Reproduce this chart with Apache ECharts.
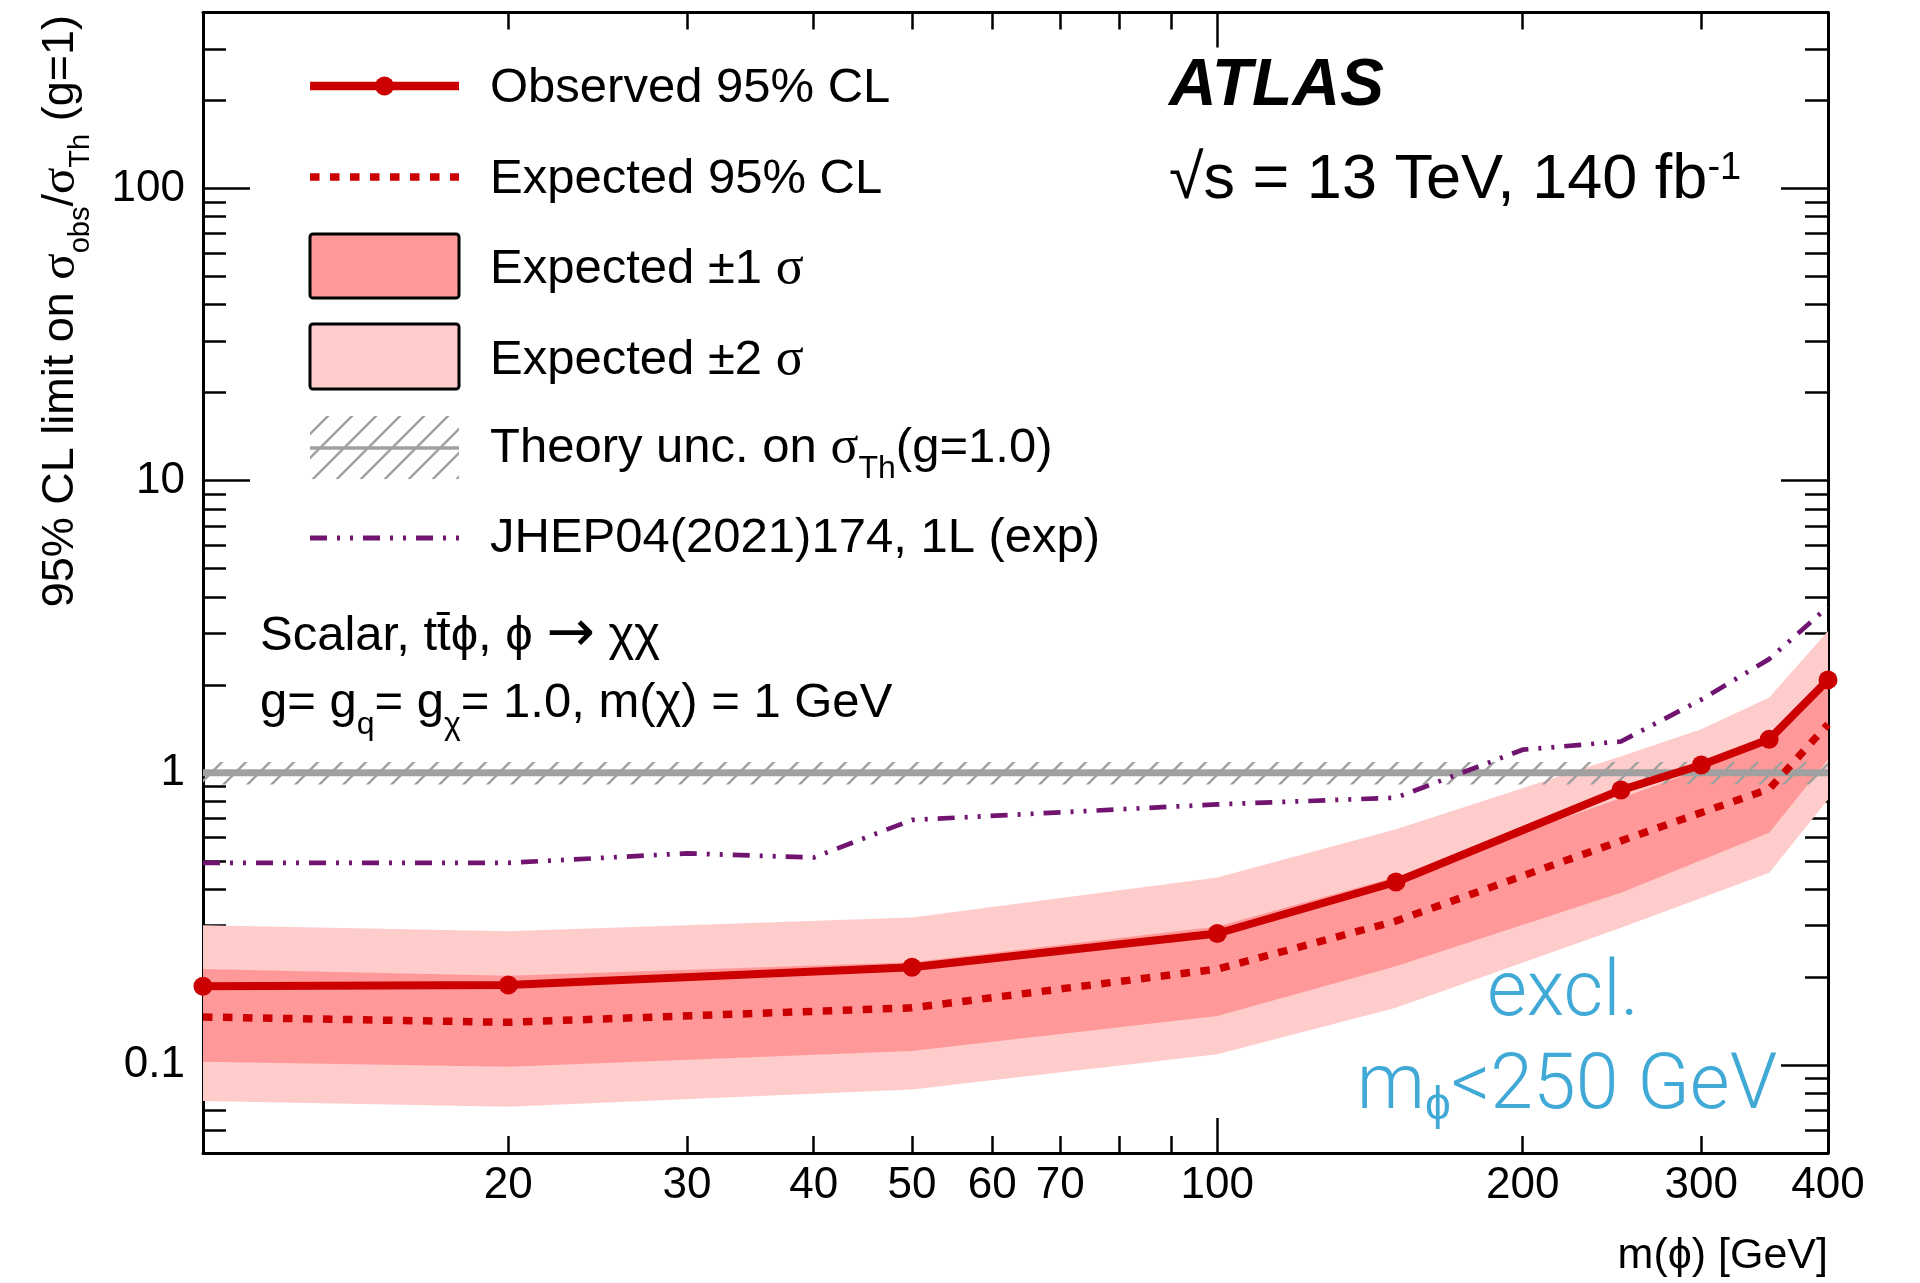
<!DOCTYPE html>
<html><head><meta charset="utf-8">
<script src="https://cdn.jsdelivr.net/npm/echarts@6/dist/echarts.min.js"></script>
<style>html,body{margin:0;padding:0;background:#fff}#c{width:1920px;height:1283px}</style>
</head><body><div id="c"></div>
<script>
// ---------------- data ----------------
const masses     = [10, 20, 50, 100, 150, 250, 300, 350, 400];
const observed   = [0.186, 0.188, 0.216, 0.282, 0.423, 0.873, 1.064, 1.302, 2.08];
const expected   = [0.146, 0.140, 0.157, 0.213, 0.311, 0.585, 0.731, 0.880, 1.467];
const exp1sUp    = [0.213, 0.202, 0.225, 0.298, 0.440, 0.820, 1.030, 1.300, 2.15];
const exp1sDn    = [0.1027, 0.0987, 0.1116, 0.1472, 0.218, 0.389, 0.502, 0.624, 1.11];
const exp2sUp    = [0.301, 0.287, 0.320, 0.438, 0.641, 1.140, 1.410, 1.810, 3.06];
const exp2sDn    = [0.0753, 0.0720, 0.0825, 0.1088, 0.157, 0.295, 0.373, 0.455, 0.81];
const jhepMasses = [10, 20, 30, 40, 50, 100, 150, 200, 250, 300, 350, 400];
const jhepLimit  = [0.492, 0.492, 0.530, 0.513, 0.690, 0.780, 0.822, 1.20, 1.28, 1.78, 2.45, 3.70];
const theoryMasses  = [10, 400];
const theoryCentral = [1, 1];
const theoryLow     = [0.913, 0.913];
const theoryHigh    = [1.089, 1.089];
const xTickLabels = [20, 30, 40, 50, 60, 70, 100, 200, 300, 400];
const xMinorTicks = [20, 30, 40, 50, 60, 70, 80, 90, 200, 300];
const xMajorTicks = [100];
const yTickLabels = [0.1, 1, 10, 100];
const yMinorTicks = [0.06, 0.07, 0.08, 0.09, 0.2, 0.3, 0.4, 0.5, 0.6, 0.7, 0.8, 0.9,
                     2, 3, 4, 5, 6, 7, 8, 9, 20, 30, 40, 50, 60, 70, 80, 90, 200, 300];
const yMajorTicks = [0.1, 1, 10, 100];

// ---------------- styles ----------------
const F = '"Liberation Sans", Arial, Helvetica, sans-serif';
const SERIF = '"Liberation Serif", "Times New Roman", serif';
const DV = '"DejaVu Sans", ' + F;
const LIGHT = 'Roboto, ' + F;
const RED = '#cc0000', PURPLE = '#701470', GREY = '#a0a0a0';
const C1S = '#ff9999', C2S = '#ffcccc';

function makeHatch(size, color, width) {
  const c = document.createElement('canvas');
  c.width = size; c.height = size;
  const g = c.getContext('2d');
  g.strokeStyle = color; g.lineWidth = width;
  g.beginPath();
  g.moveTo(-size, size); g.lineTo(size, -size);
  g.moveTo(0, size); g.lineTo(size, 0);
  g.moveTo(0, 2 * size); g.lineTo(2 * size, 0);
  g.stroke();
  return c;
}
const hatch = { image: makeHatch(24, GREY, 2.4), repeat: 'repeat' };

function band(name, xs, lo, hi, fill, z) {
  return {
    type: 'custom', name, z, silent: true, xAxisIndex: 0, yAxisIndex: 0,
    data: xs.map((x, i) => [x, lo[i], hi[i]]),
    encode: { x: 0, y: [1, 2] },
    renderItem(params, api) {
      if (params.dataIndex !== 0) return null;
      const pts = [];
      for (let i = 0; i < xs.length; i++) pts.push(api.coord([xs[i], hi[i]]));
      for (let i = xs.length - 1; i >= 0; i--) pts.push(api.coord([xs[i], lo[i]]));
      return { type: 'polygon', shape: { points: pts }, style: { fill: fill, stroke: null } };
    }
  };
}

const fmt = v => String(+(+v).toPrecision(6));
const AX_LINE = { show: true, onZero: false, lineStyle: { color: '#000', width: 3 } };
function xAx(pos, ticks, len, showLine, labels) {
  return {
    type: 'log', logBase: 10, min: 10, max: 400, position: pos,
    axisLine: showLine ? AX_LINE : { show: false },
    axisTick: { show: true, inside: true, length: len, customValues: ticks,
                lineStyle: { color: '#000', width: 2.5 } },
    axisLabel: labels ? { show: true, customValues: labels, formatter: fmt, margin: 11,
                          fontSize: 44, fontFamily: F, color: '#000' } : { show: false },
    splitLine: { show: false }, minorTick: { show: false }
  };
}
function yAx(pos, ticks, len, showLine, labels) {
  return {
    type: 'log', logBase: 10, min: 0.05, max: 400, position: pos,
    axisLine: showLine ? AX_LINE : { show: false },
    axisTick: { show: true, inside: true, length: len, customValues: ticks,
                lineStyle: { color: '#000', width: 2.5 } },
    axisLabel: labels ? { show: true, customValues: labels, formatter: fmt, margin: 18,
                          fontSize: 44, fontFamily: F, color: '#000' } : { show: false },
    splitLine: { show: false }, minorTick: { show: false }
  };
}

const txt = (x, y, text, extra, rich, rot) => ({
  type: 'text', x, y, rotation: rot || 0, silent: true,
  style: Object.assign({ text, fontFamily: F, fontSize: 49, fill: '#000',
    align: 'left', verticalAlign: 'middle', textAlign: 'left', textVerticalAlign: 'middle',
    rich: rich || {} }, extra || {})
});
const richLegend = {
  g: { fontFamily: SERIF, fontSize: 52 },
  sub: { fontFamily: F, fontSize: 32, padding: [42, 0, 0, 0] }
};

const legendRows = [86, 177, 267, 358, 448, 538];
const graphics = [
  // legend symbols
  { type: 'line', silent: true, shape: { x1: 310, y1: legendRows[0], x2: 459, y2: legendRows[0] }, style: { stroke: RED, lineWidth: 8.5 } },
  { type: 'circle', silent: true, shape: { cx: 384.5, cy: legendRows[0], r: 9.5 }, style: { fill: RED } },
  { type: 'line', silent: true, shape: { x1: 310, y1: legendRows[1], x2: 459, y2: legendRows[1] }, style: { stroke: RED, lineWidth: 7.5, lineDash: [9.5, 10.5] } },
  { type: 'rect', silent: true, shape: { x: 310, y: 234, width: 149, height: 64, r: 3 }, style: { fill: C1S, stroke: '#000', lineWidth: 3 } },
  { type: 'rect', silent: true, shape: { x: 310, y: 324, width: 149, height: 65, r: 3 }, style: { fill: C2S, stroke: '#000', lineWidth: 3 } },
  { type: 'rect', silent: true, shape: { x: 310, y: 416, width: 149, height: 63 }, style: { fill: hatch } },
  { type: 'line', silent: true, shape: { x1: 310, y1: legendRows[4], x2: 459, y2: legendRows[4] }, style: { stroke: GREY, lineWidth: 3.5 } },
  { type: 'line', silent: true, shape: { x1: 310, y1: legendRows[5], x2: 459, y2: legendRows[5] }, style: { stroke: PURPLE, lineWidth: 5, lineDash: [17, 10, 3, 10, 3, 10] } },
  // legend labels
  txt(490, legendRows[0] + 2, 'Observed 95% CL'),
  txt(490, legendRows[1] + 2, 'Expected 95% CL'),
  txt(490, legendRows[2] + 2, 'Expected ±1 {g|σ}', null, richLegend),
  txt(490, legendRows[3] + 2, 'Expected ±2 {g|σ}', null, richLegend),
  txt(490, legendRows[4] + 0, 'Theory unc. on {g|σ}{sub|Th}(g=1.0)', null, richLegend),
  txt(490, legendRows[5] + 0, 'JHEP04(2021)174, 1L (exp)'),
  // ATLAS labels
  txt(1169, 87, 'ATLAS', { fontSize: 66, fontWeight: 'bold', fontStyle: 'italic' }),
  txt(1169, 181, '√s = 13 TeV, 140 fb{sup|-1}', { fontSize: 63 },
      { sup: { fontFamily: F, fontSize: 38, padding: [0, 0, 24, 0] } }),
  // process labels
  txt(260, 636, 'Scalar, tt̄ϕ, ϕ {ar|→} χχ', null,
      { ar: { fontFamily: DV, fontSize: 58 } }),
  txt(260, 703, 'g= g{sub|q}= g{sub|χ}= 1.0, m(χ) = 1 GeV', null,
      { sub: { fontFamily: F, fontSize: 32, padding: [44, 0, 0, 0] } }),
  // exclusion note
  txt(1563, 996, 'excl.', { fontSize: 77, fontFamily: LIGHT, fontWeight: 300, fill: '#41a9d6', align: 'center', textAlign: 'center' }),
  txt(1567, 1089, 'm{sub|ϕ}<250 GeV', { fontSize: 77, fontFamily: LIGHT, fontWeight: 300, fill: '#41a9d6', align: 'center', textAlign: 'center' },
      { sub: { fontFamily: LIGHT, fontWeight: 300, fontSize: 46, padding: [36, 0, 0, 0] } }),
  // axis titles
  txt(1828, 1256, 'm(ϕ) [GeV]', { fontSize: 43, align: 'right', textAlign: 'right' }),
  txt(61, 15, '95% CL limit on {g|σ}{sub|obs}/{g|σ}{sub|Th} (g=1)', { fontSize: 45, align: 'right', textAlign: 'right' },
      { g: { fontFamily: SERIF, fontSize: 49 }, sub: { fontFamily: F, fontSize: 29, padding: [40, 0, 0, 0] } }, Math.PI / 2)
];

const chart = echarts.init(document.getElementById('c'), null, { renderer: 'canvas' });
chart.setOption({
  animation: false,
  backgroundColor: '#fff',
  grid: { left: 203, right: 92, top: 12.5, bottom: 130, containLabel: false },
  xAxis: [
    xAx('bottom', xMinorTicks, 17, true, xTickLabels),
    xAx('bottom', xMajorTicks, 35, false, null),
    xAx('top', xMinorTicks, 17, true, null),
    xAx('top', xMajorTicks, 35, false, null)
  ],
  yAxis: [
    yAx('left', yMinorTicks, 23, true, yTickLabels),
    yAx('left', yMajorTicks, 47, false, null),
    yAx('right', yMinorTicks, 23, true, null),
    yAx('right', yMajorTicks, 47, false, null)
  ],
  series: [
    band('Expected ±2σ', masses, exp2sDn, exp2sUp, C2S, 1),
    band('Expected ±1σ', masses, exp1sDn, exp1sUp, C1S, 2),
    band('Theory unc.', theoryMasses, theoryLow, theoryHigh, hatch, 3),
    { type: 'line', name: 'Theory', z: 4, silent: true, symbol: 'none',
      data: theoryMasses.map((m, i) => [m, theoryCentral[i]]),
      lineStyle: { color: GREY, width: 7 } },
    { type: 'line', name: 'JHEP04(2021)174, 1L (exp)', z: 5, silent: true, symbol: 'none',
      data: jhepMasses.map((m, i) => [m, jhepLimit[i]]),
      lineStyle: { color: PURPLE, width: 4.7, type: [17, 10, 3, 10, 3, 10] } },
    { type: 'line', name: 'Expected 95% CL', z: 6, silent: true, symbol: 'none',
      data: masses.map((m, i) => [m, expected[i]]),
      lineStyle: { color: RED, width: 7.5, type: [9.5, 10.5], cap: 'butt' } },
    { type: 'line', name: 'Observed 95% CL', z: 7, silent: true, clip: false,
      symbol: 'circle', symbolSize: 19,
      data: masses.map((m, i) => [m, observed[i]]),
      itemStyle: { color: RED }, lineStyle: { color: RED, width: 8 } }
  ],
  graphic: { elements: graphics }
});
</script></body></html>
